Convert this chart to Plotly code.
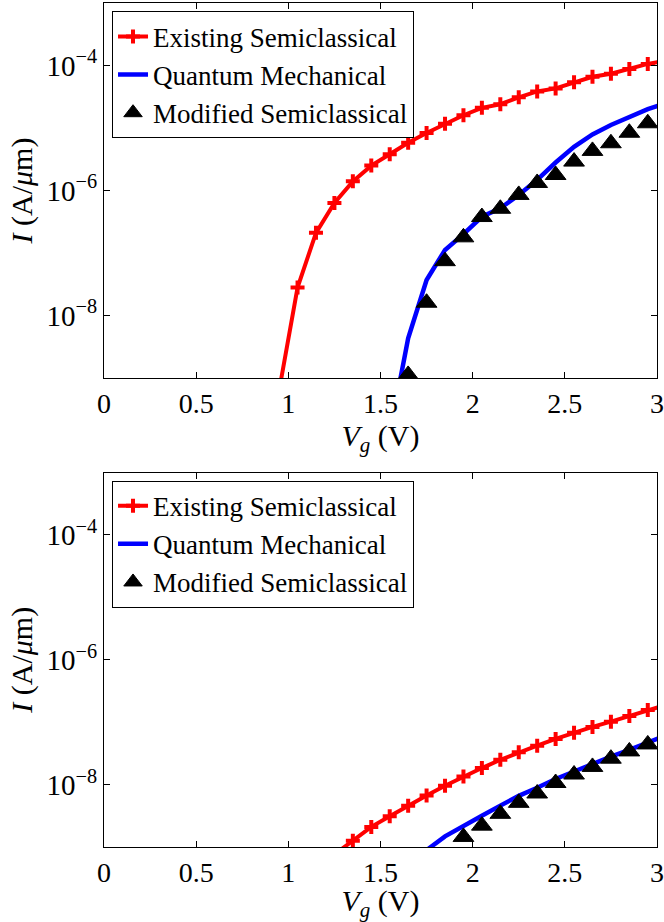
import plotly.graph_objects as go

# ---------------- data (gate voltage in V, current in A/um) ----------------
vg_top_red = [0.95, 1.05, 1.15, 1.25, 1.35, 1.45, 1.55, 1.65, 1.75, 1.85, 1.95,
              2.05, 2.15, 2.25, 2.35, 2.45, 2.55, 2.65, 2.75, 2.85, 2.95, 3.05]
i_top_existing = [6.3e-10, 2.8e-8, 2.1e-7, 6.3e-7, 1.4e-6, 2.5e-6, 3.8e-6, 5.8e-6,
                  8.3e-6, 1.17e-5, 1.6e-5, 2.1e-5, 2.4e-5, 3.1e-5, 3.85e-5, 4.3e-5,
                  5.4e-5, 6.6e-5, 7.4e-5, 8.8e-5, 1.06e-4, 1.2e-4]

vg_top_blue = [1.55, 1.65, 1.75, 1.85, 1.95, 2.05, 2.15, 2.25, 2.35, 2.45, 2.55,
               2.65, 2.75, 2.85, 2.95, 3.05]
i_top_quantum = [1.26e-10, 4.3e-9, 3.7e-8, 1.12e-7, 2.0e-7, 3.8e-7, 5.2e-7, 8.5e-7,
                 1.48e-6, 2.8e-6, 5.0e-6, 7.9e-6, 1.12e-5, 1.51e-5, 2.0e-5, 2.5e-5]

vg_top_tri = [1.65, 1.75, 1.85, 1.95, 2.05, 2.15, 2.25, 2.35, 2.45, 2.55, 2.65,
              2.75, 2.85, 2.95]
i_top_modified = [1.12e-9, 1.6e-8, 7.4e-8, 1.78e-7, 3.76e-7, 5.1e-7, 8.5e-7, 1.32e-6,
                  1.77e-6, 2.9e-6, 4.3e-6, 5.7e-6, 8.4e-6, 1.19e-5]

vg_bot_red = [1.25, 1.35, 1.45, 1.55, 1.65, 1.75, 1.85, 1.95, 2.05, 2.15, 2.25,
              2.35, 2.45, 2.55, 2.65, 2.75, 2.85, 2.95, 3.05]
i_bot_existing = [7.6e-10, 1.26e-9, 2.1e-9, 3.1e-9, 4.6e-9, 6.7e-9, 9.6e-9, 1.35e-8,
                  1.84e-8, 2.5e-8, 3.3e-8, 4.2e-8, 5.4e-8, 6.8e-8, 8.4e-8, 1.02e-7,
                  1.26e-7, 1.56e-7, 1.9e-7]

vg_bot_blue = [1.65, 1.75, 1.85, 1.95, 2.05, 2.15, 2.25, 2.35, 2.45, 2.55, 2.65,
               2.75, 2.85, 2.95, 3.05]
i_bot_quantum = [4.5e-10, 8.9e-10, 1.48e-9, 2.2e-9, 3.16e-9, 4.6e-9, 6.6e-9, 8.9e-9,
                 1.23e-8, 1.62e-8, 2.16e-8, 2.8e-8, 3.6e-8, 4.8e-8, 6.2e-8]

vg_bot_tri = [1.95, 2.05, 2.15, 2.25, 2.35, 2.45, 2.55, 2.65, 2.75, 2.85, 2.95]
i_bot_modified = [1.45e-9, 2.2e-9, 3.4e-9, 5.1e-9, 7.2e-9, 1.06e-8, 1.45e-8, 1.92e-8,
                  2.6e-8, 3.4e-8, 4.4e-8]

series_names = ["Existing Semiclassical", "Quantum Mechanical", "Modified Semiclassical"]
x_tick_vals = [0, 0.5, 1, 1.5, 2, 2.5, 3]
x_tick_text = ["0", "0.5", "1", "1.5", "2", "2.5", "3"]
y_tick_vals = [1e-8, 1e-6, 1e-4]
y_tick_text = ["10<sup>\u22128</sup>", "10<sup>\u22126</sup>", "10<sup>\u22124</sup>"]

FONT = "Liberation Serif"
RED = "#ff0000"
BLUE = "#0000ff"

fig = go.Figure()

panels = [
    (vg_top_red, i_top_existing, vg_top_blue, i_top_quantum, vg_top_tri, i_top_modified,
     "x", "y", "legend"),
    (vg_bot_red, i_bot_existing, vg_bot_blue, i_bot_quantum, vg_bot_tri, i_bot_modified,
     "x2", "y2", "legend2"),
]

for (xr, yr, xb, yb, xt, yt, xa, ya, lg) in panels:
    fig.add_trace(go.Scatter(
        x=xr, y=yr, mode="lines+markers", name=series_names[0],
        line=dict(color=RED, width=4),
        marker=dict(symbol="cross-thin-open", size=10, color=RED,
                    line=dict(color=RED, width=4)),
        xaxis=xa, yaxis=ya, legend=lg))
    fig.add_trace(go.Scatter(
        x=xb, y=yb, mode="lines", name=series_names[1],
        line=dict(color=BLUE, width=4.5),
        xaxis=xa, yaxis=ya, legend=lg))
    fig.add_trace(go.Scatter(
        x=xt, y=yt, mode="markers", name=series_names[2],
        marker=dict(symbol="triangle-up", size=18, color="black",
                    line=dict(color="black", width=1)),
        xaxis=xa, yaxis=ya, legend=lg))

xaxis_common = dict(
    range=[0, 3], tickmode="array", tickvals=x_tick_vals, ticktext=x_tick_text,
    ticks="inside", ticklen=6, tickwidth=1, tickcolor="black",
    mirror="ticks", showline=True, linecolor="black", linewidth=1.3,
    showgrid=False, zeroline=False, automargin=False, ticklabeloverflow="allow",
    tickfont=dict(family=FONT, size=28, color="black"),
    title=dict(text="<i>V</i><sub><i>g</i></sub> (V)",
               font=dict(family=FONT, size=30, color="black"), standoff=3),
)
yaxis_common = dict(
    type="log", range=[-9, -3], tickmode="array", tickvals=y_tick_vals,
    ticktext=y_tick_text,
    ticks="inside", ticklen=6, tickwidth=1, tickcolor="black",
    mirror="ticks", showline=True, linecolor="black", linewidth=1.3,
    showgrid=False, zeroline=False, automargin=False, ticklabeloverflow="allow",
    tickfont=dict(family=FONT, size=29, color="black"),
    title=dict(text="<i>I</i> (A/<i>\u03bc</i>m)",
               font=dict(family=FONT, size=30, color="black"), standoff=4),
)

legend_common = dict(
    bgcolor="white", bordercolor="black", borderwidth=1,
    font=dict(family=FONT, size=27, color="black"),
    xanchor="left", yanchor="top", x=0.0145,
)

fig.update_layout(
    width=664, height=922,
    margin=dict(l=104, r=7, t=3, b=75),
    font=dict(family=FONT, color="black"),
    paper_bgcolor="white", plot_bgcolor="white",
    xaxis=dict(xaxis_common, domain=[0, 1], anchor="y"),
    yaxis=dict(yaxis_common, domain=[0.5557, 1.0], anchor="x"),
    xaxis2=dict(xaxis_common, domain=[0, 1], anchor="y2"),
    yaxis2=dict(yaxis_common, domain=[0.0, 0.4437], anchor="x2"),
    legend=dict(legend_common, y=0.99),
    legend2=dict(legend_common, y=0.434),
    showlegend=True,
)

fig.write_html("out.html",
               config={"displayModeBar": False},
               post_script="document.body.style.margin='0';document.body.style.padding='0';")
